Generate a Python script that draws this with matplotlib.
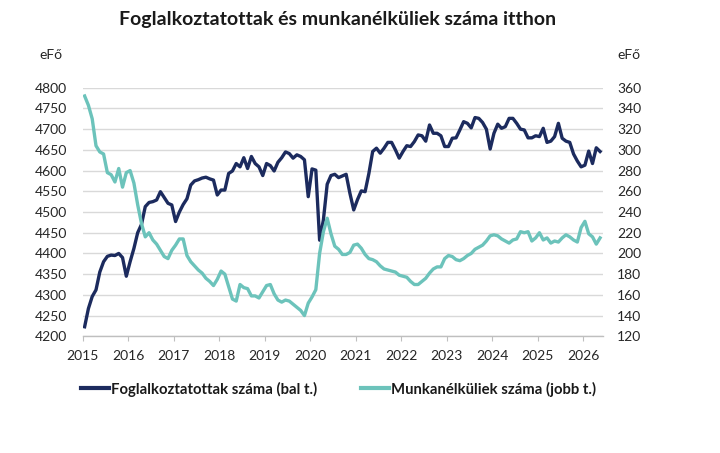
import numpy as np
import matplotlib
matplotlib.use('Agg')
import matplotlib.pyplot as plt
from matplotlib.lines import Line2D

# havi adatok 2015. januártól, eFő
foglalkoztatottak = [
    4223, 4267, 4296, 4312, 4355, 4380, 4393, 4396, 4395, 4400,
    4390, 4345, 4380, 4412, 4450, 4470, 4513, 4523, 4525, 4529,
    4549, 4535, 4521, 4517, 4477, 4500, 4518, 4532, 4565, 4575,
    4578, 4582, 4584, 4580, 4577, 4541, 4553, 4553, 4593, 4599,
    4617, 4609, 4631, 4605, 4634, 4617, 4609, 4588, 4617, 4612,
    4599, 4620, 4631, 4645, 4641, 4630, 4638, 4634, 4626, 4537,
    4604, 4601, 4432, 4481, 4567, 4588, 4591, 4583, 4587, 4591,
    4545, 4505, 4530, 4551, 4549, 4593, 4646, 4654, 4642, 4654,
    4668, 4668, 4650, 4630, 4646, 4660, 4658, 4670, 4686, 4684,
    4671, 4710, 4690, 4690, 4684, 4658, 4658, 4678, 4679, 4698,
    4718, 4714, 4703, 4728, 4726, 4716, 4700, 4652, 4690, 4712,
    4702, 4706, 4726, 4726, 4714, 4700, 4698, 4679, 4679, 4684,
    4682, 4702, 4668, 4671, 4682, 4714, 4678, 4671, 4668, 4640,
    4623, 4609, 4613, 4647, 4617, 4655, 4646,
]
munkanelkuliek = [
    352, 343, 330, 304, 298, 296, 278, 276, 269, 282,
    264, 278, 280, 268, 247, 229, 216, 220, 213, 209,
    203, 197, 195, 203, 208, 214, 214, 198, 192, 188,
    184, 181, 176, 173, 169, 175, 183, 180, 168, 156,
    154, 170, 167, 166, 159, 159, 157, 163, 169, 170,
    161, 155, 153, 155, 154, 151, 148, 145, 140, 152,
    158, 165, 200, 221, 234, 219, 207, 204, 199, 199,
    201, 208, 209, 205, 199, 195, 194, 192, 188, 185,
    184, 183, 182, 179, 178, 177, 173, 170, 170, 173,
    176, 181, 185, 187, 187, 195, 198, 197, 194, 193,
    195, 198, 200, 204, 206, 208, 212, 217, 218, 217,
    214, 212, 210, 213, 214, 221, 220, 221, 212, 215,
    220, 213, 215, 210, 212, 211, 215, 218, 216, 213,
    211, 225, 231, 219, 216, 209, 215,
]
start_year = 2015
years = list(range(2015, 2027))
left_ticks = list(range(4200, 4801, 50))
right_ticks = list(range(120, 361, 20))

title = 'Foglalkoztatottak és munkanélküliek száma itthon'
label_emp = 'Foglalkoztatottak száma (bal t.)'
label_unemp = 'Munkanélküliek száma (jobb t.)'

NAVY = '#1c2b5e'
TEAL = '#6cc3bb'
GRID = '#d9d9d9'

plt.rcParams['font.family'] = ['Lato', 'DejaVu Sans']
plt.rcParams['font.size'] = 10
plt.rcParams['text.color'] = '#1a1a1a'

# mid-month positions on a decimal-year axis
x = start_year + (np.arange(len(foglalkoztatottak)) + 0.5) / 12

fig = plt.figure(figsize=(7.2, 4.53), dpi=100)
ax = fig.add_axes([0.1149, 0.2576, 0.7222, 0.5488])
ax2 = ax.twinx()

ax.plot(x, foglalkoztatottak, color=NAVY, lw=2.4, solid_joinstyle='round', zorder=3)
ax2.plot(x, munkanelkuliek, color=TEAL, lw=2.4, solid_joinstyle='round', zorder=3)

ax.set_xlim(2015.0, 2026.433)
ax.set_ylim(4200, 4800)
ax2.set_ylim(120, 360)

ax.set_yticks(left_ticks)
ax2.set_yticks(right_ticks)
ax.set_xticks(years)
ax.set_xticklabels([str(y) for y in years])

ax.grid(axis='y', color=GRID, lw=1.0)
ax.set_axisbelow(True)

for a in (ax, ax2):
    for side in ('top', 'left', 'right', 'bottom'):
        a.spines[side].set_visible(False)
ax.spines['bottom'].set_visible(True)
ax.spines['bottom'].set_color('#bfbfbf')
ax.spines['bottom'].set_linewidth(1.0)

ax.tick_params(axis='y', length=0, pad=11.5, labelsize=10, labelcolor='#262626')
ax2.tick_params(axis='y', length=0, pad=10.5, labelsize=10, labelcolor='#262626')
ax.tick_params(axis='x', direction='out', length=3.5, width=0.8, color='#bfbfbf',
               pad=6.5, labelsize=10, labelcolor='#262626')

fig.text(0.4694, 0.958, title, ha='center', va='center', fontsize=14, fontweight='bold')
fig.text(0.0701, 0.8786, 'eFő', ha='center', va='center', fontsize=10, color='#262626')
fig.text(0.8736, 0.8786, 'eFő', ha='center', va='center', fontsize=10, color='#262626')

handles = [Line2D([], [], color=NAVY, lw=3), Line2D([], [], color=TEAL, lw=3)]
fig.legend(handles, [label_emp, label_unemp], loc='center', ncol=2,
           bbox_to_anchor=(0.470, 0.1413), frameon=False,
           prop={'size': 10.7, 'weight': 'bold'},
           handlelength=1.85, handletextpad=0.12, columnspacing=3.0)

fig.savefig('out.png', dpi=100)
